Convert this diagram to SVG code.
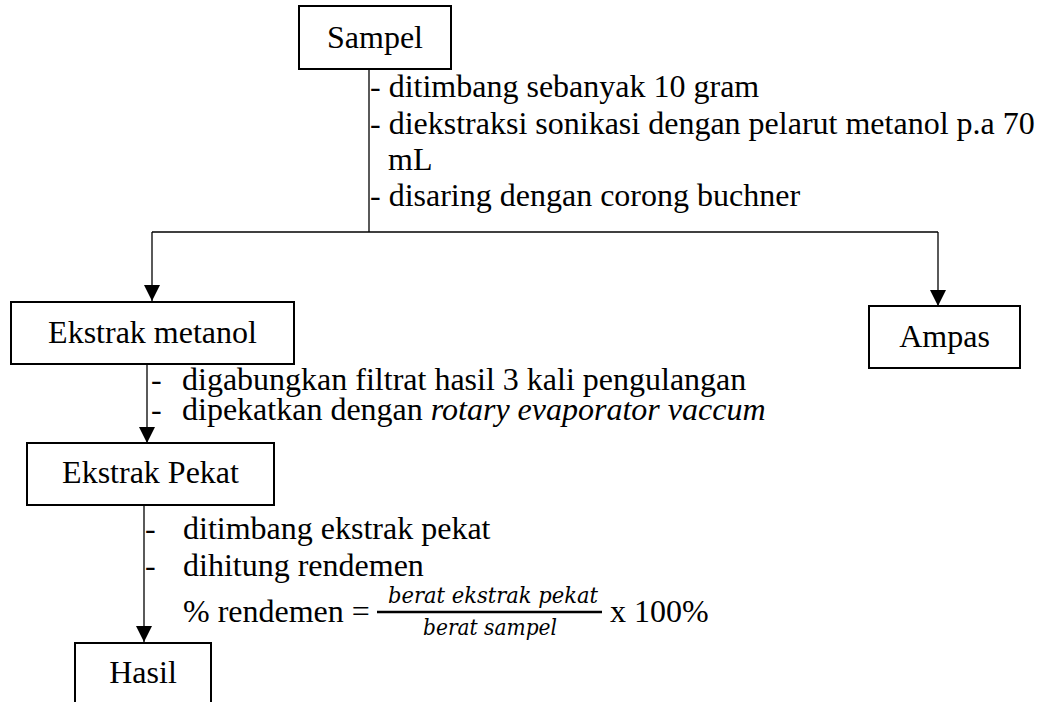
<svg xmlns="http://www.w3.org/2000/svg" width="1042" height="702" viewBox="0 0 1042 702">
<style>
.box{fill:#fff;stroke:#000;stroke-width:2}
.lbl{font-family:"Liberation Serif","Times New Roman",serif;font-size:32px;fill:#000}
.t{font-family:"Liberation Serif","Times New Roman",serif;font-size:32px;fill:#000}
.it{font-style:italic}
.m{font-family:"DejaVu Serif","Liberation Serif",serif;font-style:italic;font-size:22px;fill:#000}
.ln{fill:none;stroke:#000;stroke-width:1.3}
</style>
<defs>
<marker id="ah" markerUnits="userSpaceOnUse" markerWidth="16" markerHeight="16" viewBox="0 0 16 16" refX="16" refY="8" orient="auto">
<path d="M0,0 L16,8 L0,16 Z" fill="#000"/>
</marker>
</defs>
<rect width="1042" height="702" fill="#fff"/>
<g id="connectors">
<line class="ln" x1="369" y1="69" x2="369" y2="232"/>
<line class="ln" x1="152" y1="232" x2="938" y2="232"/>
<line class="ln" x1="152" y1="232" x2="152" y2="301" marker-end="url(#ah)"/>
<line class="ln" x1="938" y1="232" x2="938" y2="306" marker-end="url(#ah)"/>
<line class="ln" x1="147" y1="364" x2="147" y2="443" marker-end="url(#ah)"/>
<line class="ln" x1="144" y1="505" x2="144" y2="642" marker-end="url(#ah)"/>
</g>
<g id="sampel">
<rect class="box" x="299" y="6" width="152" height="63"/>
<text class="lbl" x="375" y="48" text-anchor="middle">Sampel</text>
</g>
<g id="steps1">
<text class="t" x="370" y="97">- ditimbang sebanyak 10 gram</text>
<text class="t" x="370" y="133.5">- diekstraksi sonikasi dengan pelarut metanol p.a 70</text>
<text class="t" x="388" y="170">mL</text>
<text class="t" x="370" y="206">- disaring dengan corong buchner</text>
</g>
<g id="ekstrak-metanol">
<rect class="box" x="11" y="302" width="283" height="62"/>
<text class="lbl" x="152.5" y="343" text-anchor="middle">Ekstrak metanol</text>
</g>
<g id="ampas">
<rect class="box" x="869" y="306" width="151" height="62"/>
<text class="lbl" x="944.5" y="347" text-anchor="middle">Ampas</text>
</g>
<g id="steps2">
<text class="t"><tspan x="151" y="390">-</tspan><tspan x="182" y="390">digabungkan filtrat hasil 3 kali pengulangan</tspan><tspan x="151" y="420">-</tspan><tspan x="182" y="420">dipekatkan dengan </tspan><tspan class="it">rotary evaporator vaccum</tspan></text>
</g>
<g id="ekstrak-pekat">
<rect class="box" x="27" y="443" width="247" height="62"/>
<text class="lbl" x="150.5" y="483" text-anchor="middle">Ekstrak Pekat</text>
</g>
<g id="steps3">
<text class="t"><tspan x="145" y="539">-</tspan><tspan x="183" y="539">ditimbang ekstrak pekat</tspan><tspan x="145" y="576">-</tspan><tspan x="183" y="576">dihitung rendemen</tspan></text>
<text class="t" x="183" y="622">% rendemen =</text>
<text class="m" x="493" y="603" text-anchor="middle" textLength="210" lengthAdjust="spacingAndGlyphs">berat ekstrak pekat</text>
<line x1="377" y1="612" x2="602" y2="612" stroke="#000" stroke-width="2.5"/>
<text class="m" x="490" y="635" text-anchor="middle" textLength="134" lengthAdjust="spacingAndGlyphs">berat sampel</text>
<text class="t" x="610" y="622">x 100%</text>
</g>
<g id="hasil">
<rect class="box" x="75" y="643" width="136" height="64"/>
<text class="lbl" x="143" y="683" text-anchor="middle">Hasil</text>
</g>
</svg>
